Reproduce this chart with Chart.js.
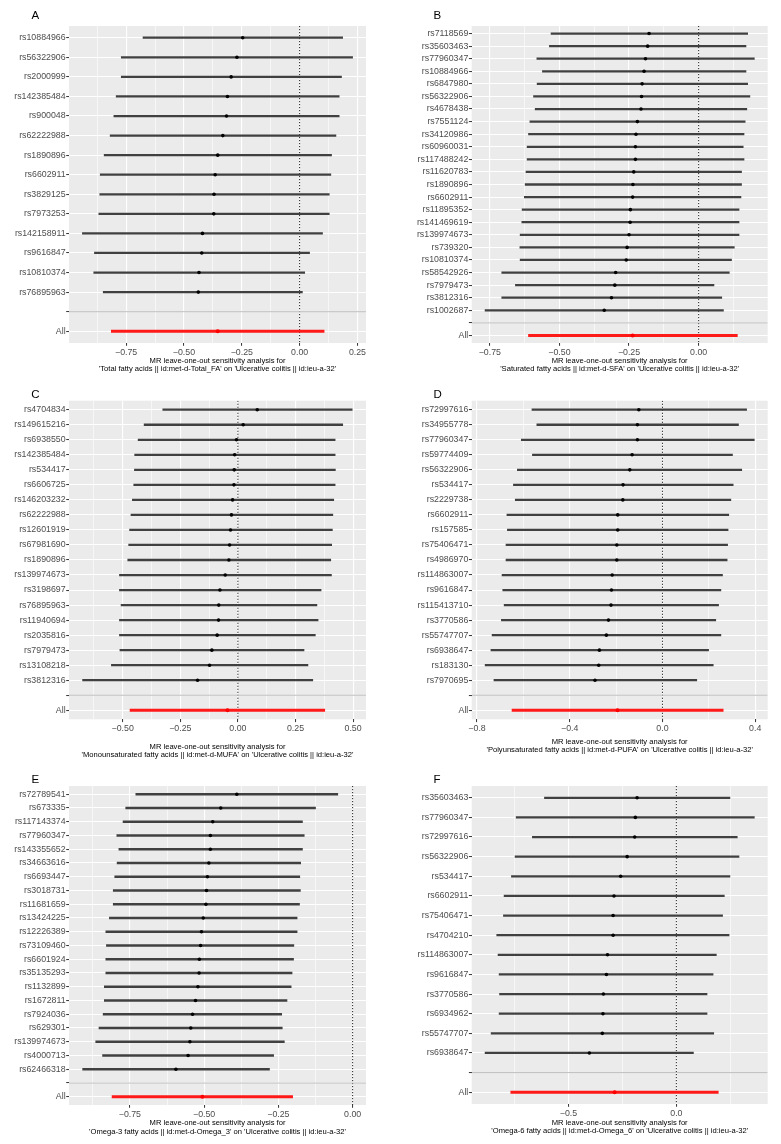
<!DOCTYPE html>
<html><head><meta charset="utf-8">
<script src="https://cdn.jsdelivr.net/npm/chart.js@4.4.1/dist/chart.umd.min.js"></script>
<style>
html,body{margin:0;padding:0;background:#fff;}
#wrap{position:relative;width:781px;height:1144px;overflow:hidden;background:#fff;}
canvas{position:absolute;}
.lbl{position:absolute;font-family:'Liberation Sans',Arial,sans-serif;font-size:11.5px;line-height:11.5px;color:#000;}
</style></head><body><div id="wrap"></div>
<script>
// ---------- DATA ----------
const outcome = "Ulcerative colitis || id:ieu-a-32";

const A_exposure = "Total fatty acids || id:met-d-Total_FA";
const A_snps = ["rs10884966","rs56322906","rs2000999","rs142385484","rs900048","rs62222988","rs1890896","rs6602911","rs3829125","rs7973253","rs142158911","rs9616847","rs10810374","rs76895963"];
const A_b  = [-0.246,-0.271,-0.296,-0.312,-0.316,-0.332,-0.354,-0.365,-0.370,-0.371,-0.420,-0.423,-0.435,-0.438];
const A_lo = [-0.677,-0.771,-0.771,-0.793,-0.803,-0.819,-0.845,-0.862,-0.864,-0.868,-0.939,-0.887,-0.890,-0.849];
const A_hi = [0.186,0.229,0.181,0.171,0.171,0.157,0.138,0.135,0.128,0.128,0.099,0.043,0.022,0.012];
const A_all = [-0.354,-0.814,0.106];
const A_xlim = [-0.997,0.287];
const A_major = [-0.75,-0.5,-0.25,0,0.25];
const A_minor = [-0.875,-0.625,-0.375,-0.125,0.125];

const B_exposure = "Saturated fatty acids || id:met-d-SFA";
const B_snps = ["rs7118569","rs35603463","rs77960347","rs10884966","rs6847980","rs56322906","rs4678438","rs7551124","rs34120986","rs60960031","rs117488242","rs11620783","rs1890896","rs6602911","rs11895352","rs141469619","rs139974673","rs739320","rs10810374","rs58542926","rs7979473","rs3812316","rs1002687"];
const B_b  = [-0.178,-0.183,-0.191,-0.196,-0.203,-0.205,-0.207,-0.220,-0.225,-0.227,-0.227,-0.233,-0.236,-0.237,-0.245,-0.246,-0.250,-0.257,-0.260,-0.298,-0.301,-0.313,-0.339];
const B_lo = [-0.530,-0.536,-0.581,-0.561,-0.580,-0.593,-0.587,-0.606,-0.611,-0.616,-0.616,-0.620,-0.623,-0.626,-0.634,-0.635,-0.641,-0.642,-0.641,-0.707,-0.658,-0.707,-0.767];
const B_hi = [0.176,0.170,0.200,0.170,0.176,0.184,0.173,0.167,0.163,0.160,0.163,0.154,0.154,0.152,0.145,0.145,0.145,0.128,0.118,0.110,0.055,0.083,0.089];
const B_all = [-0.237,-0.611,0.139];
const B_xlim = [-0.815,0.248];
const B_major = [-0.75,-0.5,-0.25,0];
const B_minor = [-0.625,-0.375,-0.125,0.125];

const C_exposure = "Monounsaturated fatty acids || id:met-d-MUFA";
const C_snps = ["rs4704834","rs149615216","rs6938550","rs142385484","rs534417","rs6606725","rs146203232","rs62222988","rs12601919","rs67981690","rs1890896","rs139974673","rs3198697","rs76895963","rs11940694","rs2035816","rs7979473","rs13108218","rs3812316"];
const C_b  = [0.084,0.023,-0.006,-0.014,-0.016,-0.017,-0.023,-0.028,-0.032,-0.036,-0.039,-0.055,-0.078,-0.083,-0.084,-0.090,-0.113,-0.123,-0.175];
const C_lo = [-0.326,-0.407,-0.433,-0.448,-0.449,-0.452,-0.458,-0.464,-0.470,-0.474,-0.478,-0.514,-0.514,-0.507,-0.514,-0.514,-0.512,-0.549,-0.674];
const C_hi = [0.496,0.455,0.422,0.422,0.423,0.422,0.416,0.412,0.410,0.407,0.403,0.406,0.361,0.343,0.348,0.336,0.287,0.304,0.325];
const C_all = [-0.045,-0.468,0.377];
const C_xlim = [-0.733,0.556];
const C_major = [-0.5,-0.25,0,0.25,0.5];
const C_minor = [-0.625,-0.375,-0.125,0.125,0.375];

const D_exposure = "Polyunsaturated fatty acids || id:met-d-PUFA";
const D_snps = ["rs72997616","rs34955778","rs77960347","rs59774409","rs56322906","rs534417","rs2229738","rs6602911","rs157585","rs75406471","rs4986970","rs114863007","rs9616847","rs115413710","rs3770586","rs55747707","rs6938647","rs183130","rs7970695"];
const D_b  = [-0.102,-0.108,-0.108,-0.131,-0.141,-0.170,-0.171,-0.193,-0.193,-0.197,-0.197,-0.217,-0.220,-0.222,-0.233,-0.242,-0.272,-0.275,-0.291];
const D_lo = [-0.563,-0.542,-0.609,-0.561,-0.626,-0.643,-0.635,-0.671,-0.669,-0.675,-0.675,-0.692,-0.689,-0.683,-0.695,-0.735,-0.740,-0.765,-0.727];
const D_hi = [0.363,0.328,0.396,0.302,0.342,0.305,0.295,0.286,0.283,0.281,0.279,0.259,0.252,0.242,0.230,0.252,0.199,0.219,0.148];
const D_all = [-0.194,-0.649,0.262];
const D_xlim = [-0.823,0.454];
const D_major = [-0.8,-0.4,0,0.4];
const D_minor = [-0.6,-0.2,0.2];

const E_exposure = "Omega-3 fatty acids || id:met-d-Omega_3";
const E_snps = ["rs72789541","rs673335","rs117143374","rs77960347","rs143355652","rs34663616","rs6693447","rs3018731","rs11681659","rs13424225","rs12226389","rs73109460","rs6601924","rs35135293","rs1132899","rs1672811","rs7924036","rs629301","rs139974673","rs4000713","rs62466318"];
const E_b  = [-0.390,-0.444,-0.471,-0.479,-0.479,-0.484,-0.489,-0.492,-0.494,-0.503,-0.509,-0.512,-0.516,-0.517,-0.521,-0.529,-0.539,-0.545,-0.548,-0.554,-0.595];
const E_lo = [-0.730,-0.764,-0.773,-0.794,-0.787,-0.793,-0.801,-0.806,-0.806,-0.819,-0.831,-0.829,-0.831,-0.831,-0.836,-0.836,-0.840,-0.854,-0.865,-0.842,-0.909];
const E_hi = [-0.050,-0.125,-0.169,-0.163,-0.169,-0.175,-0.178,-0.176,-0.179,-0.187,-0.187,-0.198,-0.199,-0.204,-0.207,-0.221,-0.239,-0.237,-0.230,-0.266,-0.280];
const E_all = [-0.506,-0.810,-0.202];
const E_xlim = [-0.955,0.045];
const E_major = [-0.75,-0.5,-0.25,0];
const E_minor = [-0.875,-0.625,-0.375,-0.125];

const F_exposure = "Omega-6 fatty acids || id:met-d-Omega_6";
const F_snps = ["rs35603463","rs77960347","rs72997616","rs56322906","rs534417","rs6602911","rs75406471","rs4704210","rs114863007","rs9616847","rs3770586","rs6934962","rs55747707","rs6938647"];
const F_b  = [-0.182,-0.190,-0.193,-0.228,-0.258,-0.289,-0.293,-0.293,-0.319,-0.324,-0.338,-0.340,-0.343,-0.403];
const F_lo = [-0.611,-0.742,-0.667,-0.747,-0.764,-0.798,-0.801,-0.832,-0.826,-0.821,-0.819,-0.821,-0.858,-0.886];
const F_hi = [0.248,0.361,0.282,0.290,0.248,0.222,0.214,0.244,0.185,0.170,0.142,0.142,0.173,0.079];
const F_all = [-0.286,-0.767,0.194];
const F_xlim = [-0.948,0.423];
const F_major = [-0.5,0];
const F_minor = [-0.75,-0.25,0.25];

// ---------- LAYOUT ----------
const FONT = "'Liberation Sans', Arial, Helvetica, sans-serif";
Chart.defaults.font.family = FONT;

const panels = [
  {id:'A', snps:A_snps, b:A_b, lo:A_lo, hi:A_hi, all:A_all, xlim:A_xlim, major:A_major, minor:A_minor, dec:2, exposure:A_exposure,
   box:[0,0,390,380], area:[69,366,26,343], t2:369.3, letter:[31.5,10.3]},
  {id:'B', snps:B_snps, b:B_b, lo:B_lo, hi:B_hi, all:B_all, xlim:B_xlim, major:B_major, minor:B_minor, dec:2, exposure:B_exposure,
   box:[390,0,391,380], area:[471.7,767.7,26,343], t2:369.3, letter:[433.5,9.8]},
  {id:'C', snps:C_snps, b:C_b, lo:C_lo, hi:C_hi, all:C_all, xlim:C_xlim, major:C_major, minor:C_minor, dec:2, exposure:C_exposure,
   box:[0,380,390,380], area:[69,366,400.7,719.3], t2:755, letter:[31.2,389.3]},
  {id:'D', snps:D_snps, b:D_b, lo:D_lo, hi:D_hi, all:D_all, xlim:D_xlim, major:D_major, minor:D_minor, dec:1, exposure:D_exposure,
   box:[390,380,391,380], area:[471.7,767.7,400.7,719.3], t2:750, letter:[433.5,389.3]},
  {id:'E', snps:E_snps, b:E_b, lo:E_lo, hi:E_hi, all:E_all, xlim:E_xlim, major:E_major, minor:E_minor, dec:2, exposure:E_exposure,
   box:[0,760,390,384], area:[69,366,786,1105], t2:1131.7, letter:[31.5,773.6]},
  {id:'F', snps:F_snps, b:F_b, lo:F_lo, hi:F_hi, all:F_all, xlim:F_xlim, major:F_major, minor:F_minor, dec:1, exposure:F_exposure,
   box:[390,760,391,384], area:[471.7,767.7,786,1104], t2:1131, letter:[433.5,773.6]}
];

const bgPlugin = {
  id: 'panelBg',
  beforeDraw(chart) {
    const {ctx, chartArea: a} = chart;
    ctx.save();
    ctx.fillStyle = '#ffffff';
    ctx.fillRect(0, 0, chart.width, chart.height);
    ctx.fillStyle = '#ebebeb';
    ctx.fillRect(a.left, a.top, a.right - a.left, a.bottom - a.top);
    ctx.restore();
  }
};

const wrap = document.getElementById('wrap');
const TITLE_LH = 8.5;

function fmt(v, d) {
  const s = Math.abs(v).toFixed(d);
  return v < -1e-9 ? '\u2212' + s : s;
}

panels.forEach(p => {
  const [ox, oy, W, H] = p.box;
  const [L, R, T, B] = p.area;
  const canvas = document.createElement('canvas');
  canvas.width = W; canvas.height = H;
  canvas.style.left = ox + 'px'; canvas.style.top = oy + 'px';
  canvas.style.width = W + 'px'; canvas.style.height = H + 'px';
  wrap.appendChild(canvas);

  const lab = document.createElement('div');
  lab.className = 'lbl';
  lab.textContent = p.id;
  lab.style.left = p.letter[0] + 'px';
  lab.style.top = p.letter[1] + 'px';
  wrap.appendChild(lab);

  const n = p.snps.length;
  const labels = p.snps.concat(['', 'All']);
  const sepY = n + 1, allY = n + 2;
  const yMin = 0.4, yMax = n + 2.6;
  const barData = p.snps.map((s, i) => ({y: i + 1, x: [p.lo[i], p.hi[i]]}));
  const ptData = p.snps.map((s, i) => ({y: i + 1, x: p.b[i]}));
  const xticks = p.major.map(v => ({value: v, isMinor: false}))
    .concat(p.minor.map(v => ({value: v, isMinor: true})))
    .sort((a, b) => a.value - b.value);
  const isMinorTick = ctx => !!(ctx && ctx.tick && ctx.tick.isMinor);
  const titlePadBottom = (oy + H - p.t2) - TITLE_LH / 2;

  new Chart(canvas, {
    type: 'scatter',
    data: {
      datasets: [
        {type: 'line', data: [{x: p.xlim[0], y: sepY}, {x: p.xlim[1], y: sepY}], borderColor: '#bebebe', borderWidth: 1, pointRadius: 0, order: 1},
        {type: 'scatter', data: [{x: p.all[0], y: allY}], backgroundColor: '#ff0000', pointRadius: 2, borderWidth: 0, order: 2},
        {type: 'scatter', data: ptData, backgroundColor: '#000000', pointRadius: 1.8, borderWidth: 0, order: 3},
        {type: 'bar', indexAxis: 'y', grouped: false, data: [{y: allY, x: [p.all[1], p.all[2]]}], backgroundColor: '#ff1a1a', borderWidth: 0, barThickness: 2.2, order: 4},
        {type: 'bar', indexAxis: 'y', grouped: false, data: barData, backgroundColor: '#404040', borderWidth: 0, barThickness: 1.6, order: 5},
        {type: 'line', data: [{x: 0, y: yMin}, {x: 0, y: yMax}], borderColor: '#222222', borderWidth: 1, borderDash: [1.2, 1.8], pointRadius: 0, order: 6}
      ]
    },
    options: {
      responsive: false,
      animation: false,
      devicePixelRatio: 1,
      events: [],
      layout: {padding: {left: 0, right: ox + W - R, top: T - oy, bottom: 0}},
      plugins: {legend: {display: false}, tooltip: {enabled: false}},
      scales: {
        x: {
          type: 'linear', position: 'bottom', min: p.xlim[0], max: p.xlim[1], offset: false,
          afterBuildTicks: s => { s.ticks = xticks.map(t => ({value: t.value, isMinor: t.isMinor})); },
          afterFit: s => { s.height = (oy + H) - B; s.paddingLeft = 0; s.paddingRight = 0; },
          ticks: {
            autoSkip: false, maxRotation: 0, minRotation: 0, padding: 1,
            color: '#4d4d4d', font: {size: 8.8},
            callback: (v, i, ticks) => (ticks[i] && ticks[i].isMinor) ? '' : fmt(v, p.dec)
          },
          grid: {
            offset: false,
            color: '#ffffff',
            lineWidth: ctx => isMinorTick(ctx) ? 0.6 : 1.1,
            drawTicks: true, tickLength: 2.8,
            tickColor: ctx => isMinorTick(ctx) ? 'rgba(0,0,0,0)' : '#333333',
            tickWidth: 1
          },
          border: {display: false},
          title: {
            display: true,
            text: ['MR leave-one-out sensitivity analysis for', "'" + p.exposure + "' on '" + outcome + "'"],
            color: '#000000',
            font: {size: 7.6, lineHeight: TITLE_LH + 'px'},
            padding: {top: 0, bottom: titlePadBottom}
          }
        },
        y: {
          type: 'linear', reverse: true, min: yMin, max: yMax, offset: false,
          afterBuildTicks: s => { s.ticks = labels.map((l, i) => ({value: i + 1})); },
          afterFit: s => { s.width = L - ox; s.paddingTop = 0; s.paddingBottom = 0; },
          ticks: {
            autoSkip: false, padding: 0.6, color: '#4d4d4d', font: {size: 8.8},
            callback: v => labels[Math.round(v) - 1]
          },
          grid: {offset: false, color: '#ffffff', lineWidth: 1.1, drawTicks: true, tickLength: 2.8, tickColor: '#333333', tickWidth: 1},
          border: {display: false}
        }
      }
    },
    plugins: [bgPlugin]
  });
});
</script>
</body></html>
